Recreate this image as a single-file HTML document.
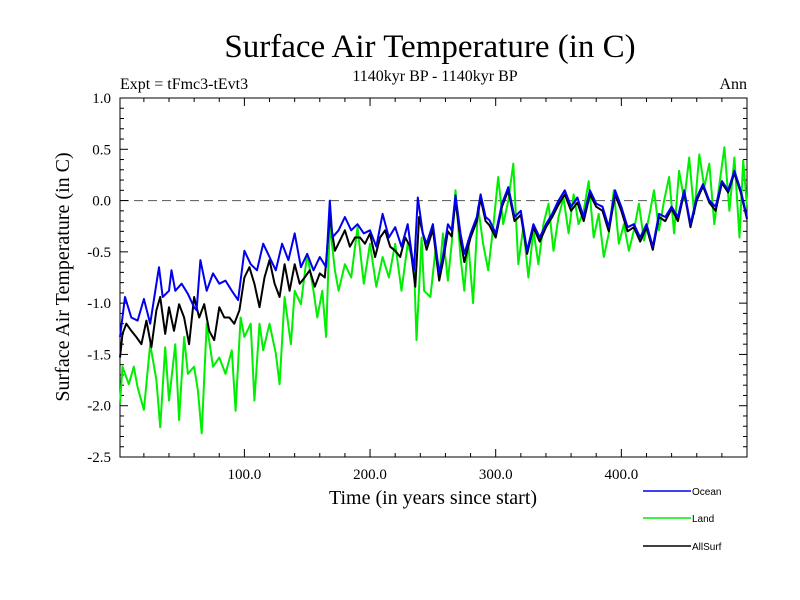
<!DOCTYPE html>
<html><head><meta charset="utf-8"><style>
body{margin:0;background:#fff}
svg{display:block;font-family:"Liberation Serif",serif}
</style></head><body>
<svg id="c" width="800" height="600" viewBox="0 0 800 600">
<rect width="800" height="600" fill="#fff"/>
<text x="430" y="57" font-size="33" text-anchor="middle">Surface Air Temperature (in C)</text>
<text x="120" y="89" font-size="16">Expt = tFmc3-tEvt3</text>
<text x="435" y="81" font-size="16" text-anchor="middle">1140kyr BP - 1140kyr BP</text>
<text x="747" y="89" font-size="16" text-anchor="end">Ann</text>
<text x="433" y="504" font-size="20" text-anchor="middle">Time (in years since start)</text>
<text transform="translate(69,277) rotate(-90)" font-size="20" text-anchor="middle">Surface Air Temperature (in C)</text>
<g id="axes"></g>
<g id="series"></g>
<g id="legend"></g>
</svg>
<script>
const yTicks=[1.0,0.5,0.0,-0.5,-1.0,-1.5,-2.0,-2.5];
const xTicks=[100,200,300,400];
const seriesNames=["Land","AllSurf","Ocean"];
const oceanYears=[1,5,10,15,20,25,30,32,35,40,42,45,50,55,60,62,65,70,75,80,85,90,95,100,105,110,115,120,125,130,135,140,145,150,155,160,165,168,170,175,180,185,190,195,200,205,210,215,220,225,230,235,238,242,245,250,255,258,262,265,268,272,275,280,285,288,292,295,300,305,310,315,320,325,330,335,340,345,350,355,360,365,370,375,380,385,390,395,400,405,410,415,420,425,430,435,440,445,450,455,460,465,470,475,480,485,490,495,500];
const oceanVals=[-1.33,-0.94,-1.14,-1.17,-0.96,-1.2,-0.81,-0.65,-0.94,-0.88,-0.68,-0.88,-0.81,-0.91,-1.04,-1.07,-0.58,-0.88,-0.71,-0.81,-0.78,-0.88,-0.97,-0.49,-0.62,-0.68,-0.42,-0.55,-0.68,-0.42,-0.58,-0.32,-0.65,-0.52,-0.68,-0.55,-0.65,0.0,-0.36,-0.29,-0.16,-0.29,-0.23,-0.32,-0.29,-0.45,-0.13,-0.36,-0.26,-0.45,-0.23,-0.68,0.03,-0.32,-0.42,-0.23,-0.71,-0.55,-0.23,-0.29,0.05,-0.32,-0.52,-0.32,-0.16,0.06,-0.16,-0.19,-0.32,-0.03,0.13,-0.16,-0.1,-0.49,-0.23,-0.36,-0.23,-0.13,0,0.1,-0.06,0.03,-0.16,0.1,-0.03,-0.06,-0.26,0.1,-0.06,-0.26,-0.23,-0.36,-0.23,-0.45,-0.13,-0.16,-0.06,-0.16,0.1,-0.23,0.03,0.16,0,-0.06,0.19,0.1,0.29,0.1,-0.16];
const landYears=[1,3,8,12,15,20,25,30,33,37,40,45,48,52,55,60,63,66,70,75,80,85,90,93,97,100,105,108,112,115,120,125,128,132,137,140,145,150,155,158,162,165,168,172,175,180,185,190,195,200,205,210,215,220,225,230,235,237,241,243,248,252,255,258,262,265,268,272,275,278,282,286,290,294,298,302,306,310,314,318,322,326,330,334,338,342,346,350,354,358,362,366,370,374,378,382,386,390,394,398,402,406,410,414,418,422,426,430,434,438,442,446,450,454,458,462,466,470,474,478,482,486,490,494,497,500];
const landVals=[-1.98,-1.62,-1.79,-1.62,-1.82,-2.04,-1.4,-1.75,-2.21,-1.43,-1.95,-1.4,-2.14,-1.33,-1.69,-1.62,-1.85,-2.27,-1.2,-1.62,-1.53,-1.69,-1.46,-2.05,-1.14,-1.33,-1.2,-1.95,-1.2,-1.46,-1.2,-1.49,-1.79,-0.94,-1.4,-0.88,-1.01,-0.52,-0.88,-1.14,-0.88,-1.33,-0.23,-0.68,-0.88,-0.62,-0.75,-0.26,-0.81,-0.42,-0.84,-0.55,-0.75,-0.42,-0.88,-0.42,-0.62,-1.36,-0.36,-0.88,-0.94,-0.49,-0.75,-0.32,-0.78,-0.42,0.1,-0.55,-0.88,-0.39,-1.0,-0.06,-0.42,-0.68,-0.26,0.23,-0.23,0,0.36,-0.62,-0.26,-0.75,-0.29,-0.62,-0.23,-0.03,-0.49,-0.16,0.03,-0.32,0.06,-0.23,-0.1,0.19,-0.36,-0.13,-0.55,-0.32,0.1,-0.42,-0.23,-0.49,-0.29,-0.03,-0.39,-0.16,0.1,-0.29,0,0.23,-0.32,0.29,0,0.42,-0.13,0.45,0.13,0.36,-0.23,0.16,0.52,-0.1,0.42,-0.36,0.39,-0.06];
const allYears=[1,3,6,10,14,18,22,26,30,33,37,40,44,48,52,56,60,64,68,72,76,80,84,88,92,96,100,104,108,112,116,120,124,128,132,136,140,144,148,152,156,160,164,168,172,176,180,184,188,192,196,200,204,208,212,216,220,224,228,232,236,239,245,250,255,258,262,265,268,272,275,280,285,288,292,295,300,305,310,315,320,325,330,335,340,345,350,355,360,365,370,375,380,385,390,395,400,405,410,415,420,425,430,435,440,445,450,455,460,465,470,475,480,485,490,495,500];
const allVals=[-1.53,-1.3,-1.2,-1.27,-1.33,-1.4,-1.17,-1.43,-1.07,-0.94,-1.3,-1.04,-1.27,-1.01,-1.14,-1.4,-0.94,-1.14,-1.01,-1.27,-1.36,-1.04,-1.14,-1.14,-1.2,-1.07,-0.75,-0.65,-0.81,-1.04,-0.75,-0.58,-0.81,-0.94,-0.62,-0.88,-0.62,-0.81,-0.75,-0.68,-0.84,-0.71,-0.75,-0.16,-0.49,-0.39,-0.29,-0.45,-0.36,-0.36,-0.42,-0.32,-0.55,-0.36,-0.29,-0.45,-0.49,-0.55,-0.36,-0.45,-0.84,-0.16,-0.48,-0.28,-0.78,-0.6,-0.3,-0.35,0.0,-0.38,-0.6,-0.36,-0.2,0.02,-0.2,-0.24,-0.36,-0.06,0.1,-0.2,-0.14,-0.52,-0.26,-0.4,-0.26,-0.16,-0.04,0.06,-0.1,-0.02,-0.2,0.06,-0.06,-0.1,-0.3,0.06,-0.1,-0.3,-0.26,-0.4,-0.26,-0.48,-0.16,-0.2,-0.08,-0.2,0.08,-0.26,0.0,0.14,-0.02,-0.1,0.17,0.08,0.27,0.08,-0.18];

const L=120,R=747,T=98,B=457;
const xs=v=>L+(v-1)*(R-L)/499;
const ys=v=>T+(1.0-v)*(B-T)/3.5;
const NS="http://www.w3.org/2000/svg";
function mk(tag,attrs,parent){const e=document.createElementNS(NS,tag);for(const k in attrs)e.setAttribute(k,attrs[k]);parent.appendChild(e);return e;}
const ax=document.getElementById('axes');
const frame=mk('rect',{x:L,y:T,width:R-L,height:B-T,fill:'none',stroke:'#000','stroke-width':1},ax);


const zl=mk('line',{x1:L,x2:R,y1:ys(0),y2:ys(0),stroke:'#555','stroke-dasharray':'9,5','stroke-width':1},ax);


for(let y=20;y<=500;y+=20){const X=xs(y);const maj=y%100===0;const len=maj?8:4;
 mk('line',{x1:X,x2:X,y1:B,y2:B-len,stroke:'#000'},ax);mk('line',{x1:X,x2:X,y1:T,y2:T+len,stroke:'#000'},ax);}
for(let i=-25;i<=10;i++){const v=i/10;const Y=ys(v);const maj=i%5===0;const len=maj?8:4;
 mk('line',{x1:L,x2:L+len,y1:Y,y2:Y,stroke:'#000'},ax);mk('line',{x1:R,x2:R-len,y1:Y,y2:Y,stroke:'#000'},ax);}
yTicks.forEach(v=>{const t=mk('text',{x:111,y:ys(v)+5,'font-size':15,'text-anchor':'end'},ax);t.textContent=v.toFixed(1);
 
 });
xTicks.forEach(v=>{const t=mk('text',{x:xs(v),y:479,'font-size':15,'text-anchor':'middle'},ax);t.textContent=v.toFixed(1);
 
 });
const sg=document.getElementById('series');
const defs=[[landYears,landVals,'#00ee00','land-line'],[allYears,allVals,'#000','allsurf-line'],[oceanYears,oceanVals,'#0000ee','ocean-line']];
defs.forEach(d=>{const pts=d[0].map((y,i)=>xs(y).toFixed(1)+','+ys(d[1][i]).toFixed(1)).join(' ');
 const p=mk('polyline',{points:pts,fill:'none',stroke:d[2],'stroke-width':2,'stroke-linejoin':'round'},sg);
 
 });
const lg=document.getElementById('legend');
const leg=[['Ocean','#0000ee',491],['Land','#00ee00',518],['AllSurf','#000',546]];
leg.forEach(l=>{const g=mk('g',{},lg);
 
 
 mk('line',{x1:643,x2:691,y1:l[2],y2:l[2],stroke:l[1],'stroke-width':1.5},g);
 const t=mk('text',{x:692,y:l[2]+4,'font-size':10,'font-family':'Liberation Sans, sans-serif'},g);t.textContent=l[0];});
</script>
</body></html>
